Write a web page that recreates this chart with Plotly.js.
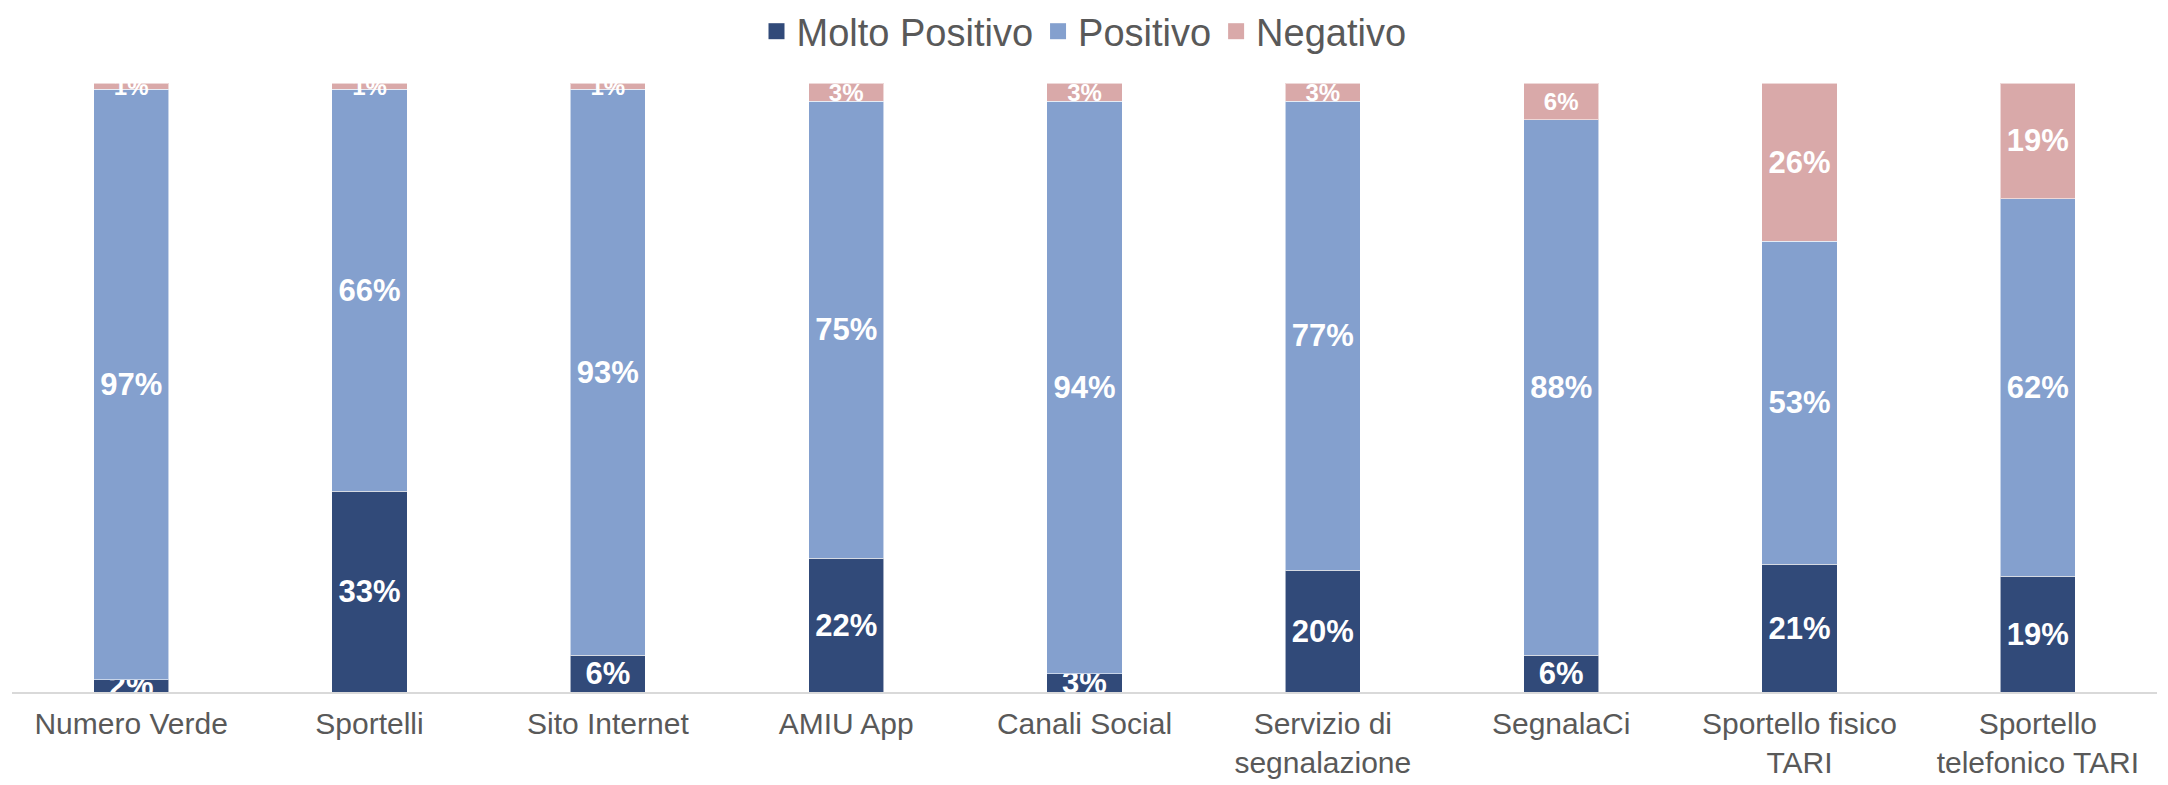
<!DOCTYPE html>
<html>
<head>
<meta charset="utf-8">
<script src="https://cdn.plot.ly/plotly-3.0.1.min.js"></script>
<style>
  html, body { margin: 0; padding: 0; background: #ffffff; }
  #chart { width: 2168px; height: 785px; }
</style>
</head>
<body>
<div id="chart"></div>
<script>
const categories = ["Numero Verde", "Sportelli", "Sito Internet", "AMIU App", "Canali Social",
  "Servizio di segnalazione", "SegnalaCi", "Sportello fisico TARI", "Sportello telefonico TARI"];
const tickLabels = ["Numero Verde", "Sportelli", "Sito Internet", "AMIU App", "Canali Social",
  "Servizio di<br>segnalazione", "SegnalaCi", "Sportello fisico<br>TARI", "Sportello<br>telefonico TARI"];
const seriesNames = ["Molto Positivo", "Positivo", "Negativo"];
const moltoPositivo = [2, 33, 6, 22, 3, 20, 6, 21, 19];
const positivo = [97, 66, 93, 75, 94, 77, 88, 53, 62];
const negativo = [1, 1, 1, 3, 3, 3, 6, 26, 19];

const colors = ["#314a79", "#84a0ce", "#d9a9a9"];
const seriesValues = [moltoPositivo, positivo, negativo];
const FONT = "Liberation Sans, Arial, sans-serif";

// label size: the small "Negativo" labels are set smaller in the original
function labelSize(seriesIdx, v) {
  return (seriesIdx === 2 && v < 10) ? 24 : 31;
}

const bars = seriesValues.map((vals, i) => ({
  type: "bar",
  name: seriesNames[i],
  x: categories,
  y: vals,
  showlegend: false,
  legendgroup: "g" + i,
  marker: { color: colors[i], line: { color: "rgba(255,255,255,0.55)", width: 1 } },
  texttemplate: "%{y}%",
  textposition: "inside",
  insidetextanchor: "middle",
  textangle: 0,
  constraintext: "none",
  cliponaxis: true,
  textfont: { family: FONT, size: vals.map(v => labelSize(i, v)), color: "#ffffff", weight: "bold" },
  hoverinfo: "skip"
}));

// legend entries with larger square swatches
const legendItems = seriesNames.map((n, i) => ({
  type: "scatter",
  mode: "markers",
  name: n,
  x: [null],
  y: [null],
  legendgroup: "g" + i,
  showlegend: true,
  marker: { symbol: "square", size: 16, color: colors[i] },
  hoverinfo: "skip"
}));

const layout = {
  width: 2168,
  height: 785,
  barmode: "stack",
  bargap: 0.685,
  margin: { l: 12, r: 11, t: 83, b: 93 },
  paper_bgcolor: "#ffffff",
  plot_bgcolor: "#ffffff",
  font: { family: FONT, color: "#595959" },
  showlegend: true,
  legend: {
    orientation: "h",
    x: 0.5, xanchor: "center", xref: "container",
    y: 1.0, yanchor: "top", yref: "container",
    font: { family: FONT, size: 38, color: "#595959" },
    itemwidth: 30,
    tracegroupgap: 0,
    traceorder: "normal",
    bgcolor: "rgba(0,0,0,0)"
  },
  xaxis: {
    type: "category",
    tickvals: categories,
    ticktext: tickLabels,
    showline: true,
    linecolor: "#d9d9d9",
    linewidth: 2,
    ticks: "",
    ticklabelstandoff: 4,
    showgrid: false,
    zeroline: false,
    tickfont: { family: FONT, size: 30, color: "#595959" },
    automargin: false
  },
  yaxis: {
    range: [0, 100],
    visible: false,
    showgrid: false,
    zeroline: false,
    fixedrange: true
  }
};

Plotly.newPlot("chart", bars.concat(legendItems), layout, { displayModeBar: false, staticPlot: true });
</script>
</body>
</html>
